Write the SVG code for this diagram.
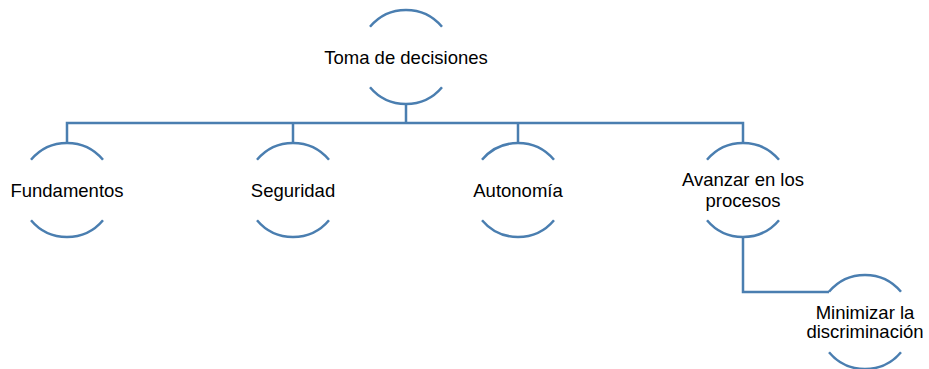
<svg xmlns="http://www.w3.org/2000/svg" width="929" height="369" viewBox="0 0 929 369">
<style>
.arc{fill:none;stroke:#4a7eb0;stroke-width:2.5}
.con{fill:none;stroke:#4a7eb0;stroke-width:2.5}
.t{font-family:"Liberation Sans",Arial,sans-serif;font-size:18.5px;fill:#000;text-anchor:middle}
</style>
<rect width="929" height="369" fill="#fff"/>
<defs>
<path id="arcs" d="M-36,-30.2 A47,47 0 0 1 36,-30.2 M-36,30.2 A47,47 0 0 0 36,30.2"/>
</defs>
<g id="connectors">
<path class="con" d="M406,104 V123 M67,143 V123 H743 V143 M293,123 V143 M518,123 V143"/>
<path class="con" d="M743,237 V292 H829"/>
</g>
<g id="n-toma"><use href="#arcs" class="arc" x="406" y="57"/><text class="t" x="406" y="63.5">Toma de decisiones</text></g>
<g id="n-fundamentos"><use href="#arcs" class="arc" x="67" y="190"/><text class="t" x="67" y="196.5">Fundamentos</text></g>
<g id="n-seguridad"><use href="#arcs" class="arc" x="293" y="190"/><text class="t" x="293" y="196.5">Seguridad</text></g>
<g id="n-autonomia"><use href="#arcs" class="arc" x="518" y="190"/><text class="t" x="518" y="196.5">Autonomía</text></g>
<g id="n-avanzar"><use href="#arcs" class="arc" x="743" y="190"/><text class="t" x="743" y="186">Avanzar en los</text><text class="t" x="743" y="207">procesos</text></g>
<g id="n-minimizar"><use href="#arcs" class="arc" x="865" y="322"/><text class="t" x="865" y="319">Minimizar la</text><text class="t" x="865" y="338">discriminación</text></g>
</svg>
